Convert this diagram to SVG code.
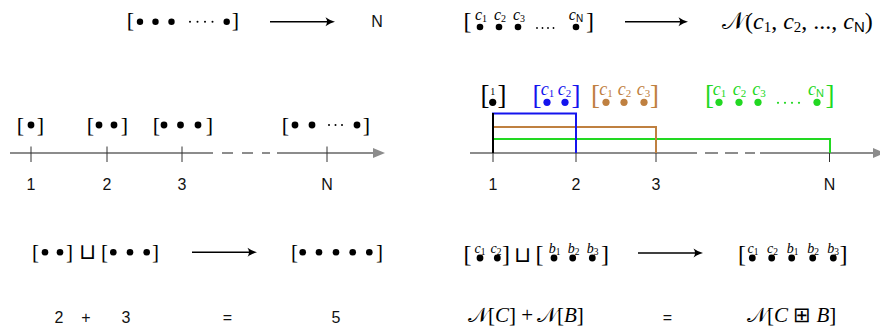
<svg xmlns="http://www.w3.org/2000/svg" width="880" height="331" viewBox="0 0 880 331">
<style>
.br{font-family:"Liberation Serif","DejaVu Serif",serif;text-anchor:middle}
.sf{font-family:"Liberation Sans","DejaVu Sans",sans-serif;text-anchor:middle;font-size:16px;fill:#111}
.ci{font-family:"Liberation Serif","DejaVu Serif",serif;font-style:italic;text-anchor:middle}
.sub{font-style:normal}
.subN{font-style:normal;font-family:"Liberation Sans","DejaVu Sans",sans-serif}
.math{font-family:"Liberation Serif","DejaVu Serif",serif}
.cal{font-family:"DejaVu Serif","DejaVu Sans","Noto Sans",serif;font-style:normal}
.it{font-style:italic}
.cup{font-family:"DejaVu Sans",sans-serif;text-anchor:middle;font-weight:200}
.axis{stroke:#8c8c8c;stroke-width:2;fill:none}
.tick{stroke:#333;stroke-width:1}
.arrow{stroke:#000;stroke-width:1.6;fill:none;marker-end:url(#ah)}
.dot{fill:#000}
.sd{fill:#000}
.blue{fill:#1414ee}
.brown{fill:#bf8040}
.green{fill:#22d822}
</style>
<defs>
<marker id="ah" markerUnits="userSpaceOnUse" markerWidth="12" markerHeight="10" refX="6" refY="5" orient="auto" viewBox="0 0 12 10">
<path d="M10,5 Q5,3.8 0.5,0.5 Q3.5,5 0.5,9.5 Q5,6.2 10,5 Z" fill="#000"/>
</marker>
<marker id="gah" markerUnits="userSpaceOnUse" markerWidth="13" markerHeight="10" refX="2" refY="5" orient="auto" viewBox="0 0 13 10">
<path d="M0,0 L12,5 L0,10 Z" fill="#8c8c8c"/>
</marker>
</defs>

<!-- top row -->
<g id="top-left-multiset">
<text class="br" x="130.5" y="27" font-size="22">[</text>
<circle class="dot" cx="140" cy="21.7" r="3.2"/>
<circle class="dot" cx="155.5" cy="21.7" r="3.2"/>
<circle class="dot" cx="171.5" cy="21.7" r="3.2"/>
<circle class="sd" cx="190" cy="21.7" r="1"/>
<circle class="sd" cx="197.5" cy="21.7" r="1"/>
<circle class="sd" cx="205" cy="21.7" r="1"/>
<circle class="sd" cx="212.5" cy="21.7" r="1"/>
<circle class="dot" cx="226.7" cy="21.7" r="3.2"/>
<text class="br" x="235.5" y="27" font-size="22">]</text>
</g>
<g id="top-left-N">
<text class="sf" x="377" y="27">N</text>
</g>

<g id="top-right-multiset">
<text class="br" x="467.5" y="28.5" font-size="24">[</text>
<text class="ci" x="481" y="20" font-size="16">c<tspan class="sub" font-size="10" dy="2">1</tspan></text>
<text class="ci" x="500" y="20" font-size="16">c<tspan class="sub" font-size="10" dy="2">2</tspan></text>
<text class="ci" x="519" y="20" font-size="16">c<tspan class="sub" font-size="10" dy="2">3</tspan></text>
<text class="ci" x="576" y="20" font-size="16">c<tspan class="subN" font-size="10" dy="2">N</tspan></text>
<circle class="dot" cx="480" cy="27" r="3.3"/>
<circle class="dot" cx="499" cy="27" r="3.3"/>
<circle class="dot" cx="518" cy="27" r="3.3"/>
<circle class="sd" cx="537" cy="28" r="0.9"/>
<circle class="sd" cx="542.5" cy="28" r="0.9"/>
<circle class="sd" cx="548" cy="28" r="0.9"/>
<circle class="sd" cx="553.5" cy="28" r="0.9"/>
<circle class="dot" cx="576" cy="27" r="3.3"/>
<text class="br" x="590" y="28.5" font-size="24">]</text>
</g>
<g id="top-right-N">
<text class="math" x="722" y="29" font-size="24"><tspan class="cal">𝒩</tspan>(<tspan class="it">c</tspan><tspan font-size="15" dy="3">1</tspan><tspan dy="-3">, </tspan><tspan class="it">c</tspan><tspan font-size="15" dy="3">2</tspan><tspan dy="-3">, ..., </tspan><tspan class="it">c</tspan><tspan class="subN" font-size="15" dy="3">N</tspan><tspan dy="-3">)</tspan></text>
</g>

<!-- middle left: number line -->
<g id="axis-left">
<line class="axis" x1="10" y1="153" x2="213" y2="153"/>
<line class="axis" x1="222" y1="153" x2="270" y2="153" stroke-dasharray="11 9"/>
<line class="axis" x1="277" y1="153" x2="375" y2="153" marker-end="url(#gah)"/>
<line class="tick" x1="31" y1="146.5" x2="31" y2="162"/>
<line class="tick" x1="107" y1="146.5" x2="107" y2="162"/>
<line class="tick" x1="182" y1="146.5" x2="182" y2="162"/>
<line class="tick" x1="327" y1="146.5" x2="327" y2="162"/>
<text class="sf" x="31" y="190">1</text>
<text class="sf" x="107" y="190">2</text>
<text class="sf" x="182" y="190">3</text>
<text class="sf" x="327" y="190">N</text>
</g>
<g id="ms-1">
<text class="br" x="20.5" y="131.5" font-size="22">[</text>
<circle class="dot" cx="31" cy="125" r="3.4"/>
<text class="br" x="40.5" y="131.5" font-size="22">]</text>
</g>
<g id="ms-2">
<text class="br" x="90.5" y="131.5" font-size="22">[</text>
<circle class="dot" cx="99" cy="125" r="3.4"/>
<circle class="dot" cx="114" cy="125" r="3.4"/>
<text class="br" x="124.5" y="131.5" font-size="22">]</text>
</g>
<g id="ms-3">
<text class="br" x="156.5" y="131.5" font-size="22">[</text>
<circle class="dot" cx="164" cy="125" r="3.4"/>
<circle class="dot" cx="180.5" cy="125" r="3.4"/>
<circle class="dot" cx="198" cy="125" r="3.4"/>
<text class="br" x="209.5" y="131.5" font-size="22">]</text>
</g>
<g id="ms-N">
<text class="br" x="285.5" y="131.5" font-size="22">[</text>
<circle class="dot" cx="295" cy="125" r="3.4"/>
<circle class="dot" cx="312" cy="125" r="3.4"/>
<circle class="sd" cx="329" cy="125" r="1"/>
<circle class="sd" cx="335.5" cy="125" r="1"/>
<circle class="sd" cx="342" cy="125" r="1"/>
<circle class="dot" cx="357" cy="125" r="3.4"/>
<text class="br" x="366.5" y="131.5" font-size="22">]</text>
</g>

<!-- middle right: coloured number line -->
<g id="axis-right">
<line class="axis" x1="470" y1="153" x2="697" y2="153"/>
<line class="axis" x1="705" y1="153" x2="755" y2="153" stroke-dasharray="13 7"/>
<line class="axis" x1="760" y1="153" x2="875" y2="153" marker-end="url(#gah)"/>
<line class="tick" x1="493" y1="153" x2="493" y2="162"/>
<line class="tick" x1="576" y1="153" x2="576" y2="162"/>
<line class="tick" x1="656" y1="153" x2="656" y2="162"/>
<line class="tick" x1="829.5" y1="153" x2="829.5" y2="162"/>
<text class="sf" x="493" y="190">1</text>
<text class="sf" x="576" y="190">2</text>
<text class="sf" x="656" y="190">3</text>
<text class="sf" x="829.5" y="190">N</text>
<path d="M493,153 V139 H830 V153" stroke="#22d822" stroke-width="2" fill="none"/>
<path d="M493,153 V127 H656 V153" stroke="#bf8040" stroke-width="2" fill="none"/>
<path d="M493,153 V113.5 H576 V153" stroke="#1414ee" stroke-width="2" fill="none"/>
<path d="M493,153 V113" stroke="#000" stroke-width="2" fill="none"/>
</g>
<g id="cms-1">
<text class="br" x="485" y="104" font-size="27">[</text>
<text class="br" x="492.7" y="95" font-size="10">1</text>
<circle class="dot" cx="492.7" cy="102.3" r="3.6"/>
<text class="br" x="502" y="104" font-size="27">]</text>
</g>
<g id="cms-2" class="blue">
<text class="br" x="537" y="104" font-size="27">[</text>
<text class="ci" x="547.5" y="95" font-size="18">c<tspan class="sub" font-size="11" dy="2">1</tspan></text>
<text class="ci" x="564.5" y="95" font-size="18">c<tspan class="sub" font-size="11" dy="2">2</tspan></text>
<circle cx="547" cy="102.3" r="3.6"/>
<circle cx="565" cy="102.3" r="3.6"/>
<text class="br" x="576" y="104" font-size="27">]</text>
</g>
<g id="cms-3" class="brown">
<text class="br" x="595.5" y="104" font-size="27">[</text>
<text class="ci" x="606" y="95" font-size="18">c<tspan class="sub" font-size="11" dy="2">1</tspan></text>
<text class="ci" x="624.5" y="95" font-size="18">c<tspan class="sub" font-size="11" dy="2">2</tspan></text>
<text class="ci" x="643.5" y="95" font-size="18">c<tspan class="sub" font-size="11" dy="2">3</tspan></text>
<circle cx="606" cy="102.3" r="3.6"/>
<circle cx="624" cy="102.3" r="3.6"/>
<circle cx="644" cy="102.3" r="3.6"/>
<text class="br" x="654.5" y="104" font-size="27">]</text>
</g>
<g id="cms-N" class="green">
<text class="br" x="709.5" y="104" font-size="27">[</text>
<text class="ci" x="719.5" y="95" font-size="18">c<tspan class="sub" font-size="11" dy="2">1</tspan></text>
<text class="ci" x="739.5" y="95" font-size="18">c<tspan class="sub" font-size="11" dy="2">2</tspan></text>
<text class="ci" x="759" y="95" font-size="18">c<tspan class="sub" font-size="11" dy="2">3</tspan></text>
<text class="ci" x="816" y="95" font-size="18">c<tspan class="subN" font-size="11" dy="2">N</tspan></text>
<circle cx="719" cy="102.3" r="3.6"/>
<circle cx="739" cy="102.3" r="3.6"/>
<circle cx="758" cy="102.3" r="3.6"/>
<circle cx="778" cy="102.8" r="1.1"/>
<circle cx="785" cy="102.8" r="1.1"/>
<circle cx="792" cy="102.8" r="1.1"/>
<circle cx="799" cy="102.8" r="1.1"/>
<circle cx="817" cy="102.3" r="3.6"/>
<text class="br" x="830" y="104" font-size="27">]</text>
</g>

<!-- bottom left -->
<g id="bl-union">
<text class="br" x="35.5" y="258.5" font-size="21">[</text>
<circle class="dot" cx="45" cy="252.3" r="3.3"/>
<circle class="dot" cx="60" cy="252.3" r="3.3"/>
<text class="br" x="69.5" y="258.5" font-size="21">]</text>
<text class="cup" x="87.5" y="259" font-size="22">⊔</text>
<text class="br" x="104.5" y="258.5" font-size="21">[</text>
<circle class="dot" cx="113.3" cy="252.3" r="3.3"/>
<circle class="dot" cx="130" cy="252.3" r="3.3"/>
<circle class="dot" cx="146.7" cy="252.3" r="3.3"/>
<text class="br" x="155.5" y="258.5" font-size="21">]</text>
</g>
<g id="bl-result">
<text class="br" x="294.5" y="258.5" font-size="21">[</text>
<circle class="dot" cx="302.7" cy="252.3" r="3.3"/>
<circle class="dot" cx="319" cy="252.3" r="3.3"/>
<circle class="dot" cx="336" cy="252.3" r="3.3"/>
<circle class="dot" cx="352.7" cy="252.3" r="3.3"/>
<circle class="dot" cx="369.3" cy="252.3" r="3.3"/>
<text class="br" x="379.5" y="258.5" font-size="21">]</text>
</g>
<g id="bl-sum">
<text class="sf" x="59" y="323">2</text>
<text class="sf" x="86" y="323">+</text>
<text class="sf" x="126" y="323">3</text>
<text class="sf" x="227.5" y="323">=</text>
<text class="sf" x="336" y="323">5</text>
</g>

<!-- bottom right -->
<g id="br-union">
<text class="br" x="467.5" y="261.5" font-size="24">[</text>
<text class="ci" x="480" y="253" font-size="14">c<tspan class="sub" font-size="9.5" dy="2">1</tspan></text>
<text class="ci" x="496" y="253" font-size="14">c<tspan class="sub" font-size="9.5" dy="2">2</tspan></text>
<circle class="dot" cx="480" cy="258" r="3.4"/>
<circle class="dot" cx="497.3" cy="258" r="3.4"/>
<text class="br" x="506" y="261.5" font-size="24">]</text>
<text class="cup" x="522.5" y="262" font-size="22">⊔</text>
<text class="br" x="539.5" y="261.5" font-size="24">[</text>
<text class="ci" x="554.5" y="253" font-size="14">b<tspan class="sub" font-size="9.5" dy="2">1</tspan></text>
<text class="ci" x="573.5" y="253" font-size="14">b<tspan class="sub" font-size="9.5" dy="2">2</tspan></text>
<text class="ci" x="592.5" y="253" font-size="14">b<tspan class="sub" font-size="9.5" dy="2">3</tspan></text>
<circle class="dot" cx="554" cy="258" r="3.4"/>
<circle class="dot" cx="572.7" cy="258" r="3.4"/>
<circle class="dot" cx="592.3" cy="258" r="3.4"/>
<text class="br" x="605" y="261.5" font-size="24">]</text>
</g>
<g id="br-result">
<text class="br" x="742" y="261.5" font-size="24">[</text>
<text class="ci" x="753" y="253" font-size="14">c<tspan class="sub" font-size="9.5" dy="2">1</tspan></text>
<text class="ci" x="772.5" y="253" font-size="14">c<tspan class="sub" font-size="9.5" dy="2">2</tspan></text>
<text class="ci" x="792.5" y="253" font-size="14">b<tspan class="sub" font-size="9.5" dy="2">1</tspan></text>
<text class="ci" x="813" y="253" font-size="14">b<tspan class="sub" font-size="9.5" dy="2">2</tspan></text>
<text class="ci" x="833" y="253" font-size="14">b<tspan class="sub" font-size="9.5" dy="2">3</tspan></text>
<circle class="dot" cx="752.3" cy="258" r="3.4"/>
<circle class="dot" cx="771.7" cy="258" r="3.4"/>
<circle class="dot" cx="791.7" cy="258" r="3.4"/>
<circle class="dot" cx="812.7" cy="258" r="3.4"/>
<circle class="dot" cx="833.3" cy="258" r="3.4"/>
<text class="br" x="843.5" y="261.5" font-size="24">]</text>
</g>
<g id="br-sum">
<text class="math" x="468" y="322" font-size="21"><tspan class="cal">𝒩</tspan>[<tspan class="it">C</tspan>] +</text>
<text class="math" x="537" y="322" font-size="21"><tspan class="cal">𝒩</tspan>[<tspan class="it">B</tspan>]</text>
<text class="sf" x="667.5" y="323">=</text>
<text class="math" x="747" y="322" font-size="21"><tspan class="cal">𝒩</tspan>[<tspan class="it">C</tspan> <tspan class="cup">⊞</tspan> <tspan class="it">B</tspan>]</text>
</g>

<g id="connectors">
<line class="arrow" x1="270" y1="21.7" x2="331" y2="21.7"/>
<line class="arrow" x1="625" y1="21.7" x2="684" y2="21.7"/>
<line class="arrow" x1="192" y1="252.3" x2="253" y2="252.3"/>
<line class="arrow" x1="638" y1="253" x2="699" y2="253"/>
</g>
</svg>
